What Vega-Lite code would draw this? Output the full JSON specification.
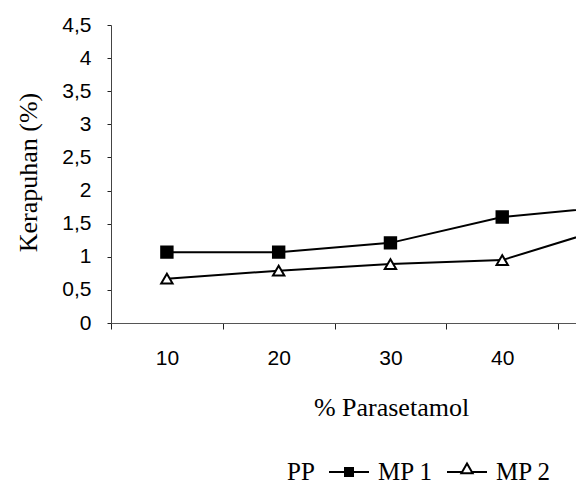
{
  "$schema": "https://vega.github.io/schema/vega-lite/v6.json",
  "width": 465,
  "height": 298,
  "autosize": "none",
  "padding": {"left": 111, "top": 25, "right": 0, "bottom": 174},
  "background": "white",
  "config": {
    "axis": {"titleFont": "Liberation Serif", "titleFontSize": 26, "titleFontWeight": "normal", "titleColor": "black"},
    "view": {"stroke": null}
  },
  "data": {
    "values": [
      {"pct": 10, "kerapuhan": 1.07, "series": "MP 1"},
      {"pct": 20, "kerapuhan": 1.07, "series": "MP 1"},
      {"pct": 30, "kerapuhan": 1.21, "series": "MP 1"},
      {"pct": 40, "kerapuhan": 1.6, "series": "MP 1"},
      {"pct": 50, "kerapuhan": 1.76, "series": "MP 1"},
      {"pct": 10, "kerapuhan": 0.67, "series": "MP 2"},
      {"pct": 20, "kerapuhan": 0.79, "series": "MP 2"},
      {"pct": 30, "kerapuhan": 0.89, "series": "MP 2"},
      {"pct": 40, "kerapuhan": 0.95, "series": "MP 2"},
      {"pct": 50, "kerapuhan": 1.47, "series": "MP 2"}
    ]
  },
  "encoding": {
    "x": {
      "field": "pct",
      "type": "quantitative",
      "scale": {"domain": [5, 46.6], "nice": false, "zero": false},
      "axis": {
        "title": "% Parasetamol",
        "values": [5, 10, 15, 20, 25, 30, 35, 40, 45],
        "labelExpr": "datum.value % 10 == 0 ? datum.label : ''",
        "tickOpacity": {"condition": {"test": "datum.value % 10 == 0", "value": 0}, "value": 1},
        "tickSize": 6,
        "tickColor": "#222222",
        "domainColor": "#555555",
        "domainWidth": 1,
        "labelFont": "Liberation Sans",
        "labelFontSize": 21,
        "labelColor": "black",
        "labelPadding": 18,
        "labelFlush": false,
        "labelOverlap": false,
        "titleFont": "Liberation Serif",
        "titleFontSize": 26,
        "titleFontWeight": "normal",
        "titleColor": "black",
        "titleX": 280,
        "titleY": 84,
        "titleAlign": "center",
        "titleBaseline": "middle",
        "grid": false
      }
    },
    "y": {
      "field": "kerapuhan",
      "type": "quantitative",
      "scale": {"domain": [0, 4.5], "nice": false},
      "axis": {
        "title": "Kerapuhan (%)",
        "values": [0, 0.5, 1, 1.5, 2, 2.5, 3, 3.5, 4, 4.5],
        "labelExpr": "replace(format(datum.value, '.1~f'), '.', ',')",
        "tickSize": 4,
        "tickColor": "#222222",
        "domainColor": "#444444",
        "domainWidth": 1,
        "labelFont": "Liberation Sans",
        "labelFontSize": 21,
        "labelColor": "black",
        "labelPadding": 16,
        "labelFlush": false,
        "labelOverlap": false,
        "titleFont": "Liberation Serif",
        "titleFontSize": 26,
        "titleFontWeight": "normal",
        "titleColor": "black",
        "titleAngle": 270,
        "titleX": -83,
        "titleY": 147,
        "titleAlign": "center",
        "titleBaseline": "middle",
        "grid": false
      }
    }
  },
  "resolve": {"scale": {"shape": "independent"}},
  "layer": [
    {
      "mark": {"type": "line", "color": "black", "strokeWidth": 2, "clip": true},
      "encoding": {"detail": {"field": "series", "type": "nominal"}}
    },
    {
      "mark": {"type": "point", "filled": true, "stroke": "black", "strokeWidth": 2, "size": 130, "opacity": 1, "clip": true},
      "encoding": {
        "shape": {
          "field": "series",
          "type": "nominal",
          "scale": {"domain": ["PP", "MP 1", "MP 2"], "range": ["circle", "square", "triangle-up"]},
          "legend": null
        },
        "fill": {
          "field": "series",
          "type": "nominal",
          "scale": {"domain": ["PP", "MP 1", "MP 2"], "range": ["white", "black", "white"]},
          "legend": null
        }
      }
    },
    {
      "mark": {"type": "point", "filled": false, "opacity": 0, "clip": true},
      "encoding": {
        "shape": {
          "field": "series",
          "type": "nominal",
          "scale": {
            "domain": ["PP", "MP 1", "MP 2"],
            "range": [
              "M0,0",
              "M-1,0H1M-0.2,-0.2H0.2V0.2H-0.2ZM-0.2,-0.1H0.2M-0.2,0.1H0.2",
              "M-1,0H-0.28M0.28,0H1M0,-0.42L0.28,0.06H-0.28Z"
            ]
          },
          "legend": {
            "title": null,
            "orient": "none",
            "direction": "horizontal",
            "legendX": 126,
            "legendY": 426,
            "padding": 0,
            "symbolSize": 1600,
            "symbolStrokeWidth": 2,
            "symbolStrokeColor": "black",
            "symbolFillColor": "transparent",
            "symbolOpacity": 1,
            "labelFont": "Liberation Serif",
            "labelFontSize": 25,
            "labelColor": "black",
            "labelOffset": 8,
            "columnPadding": 10,
            "labelLimit": 200
          }
        }
      }
    }
  ]
}
